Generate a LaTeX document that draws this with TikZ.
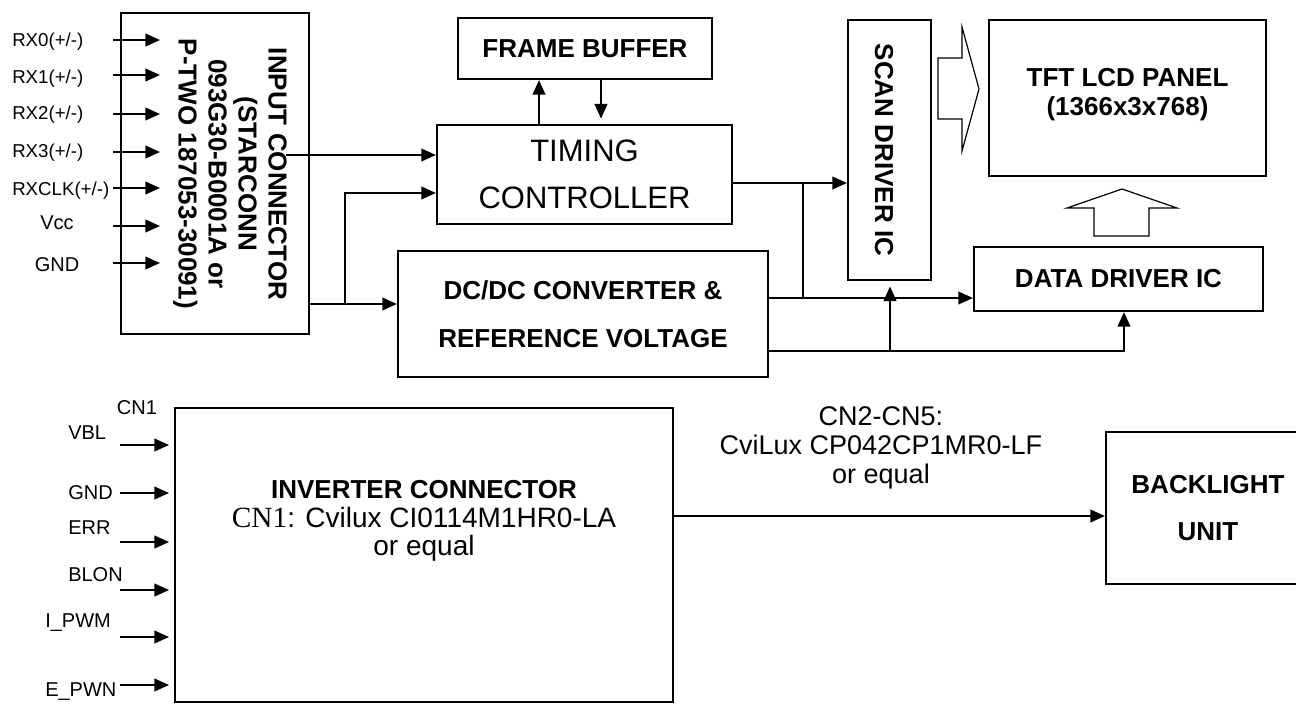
\documentclass[tikz,border=0pt]{standalone}
\usepackage{fontspec}
\setmainfont{Liberation Sans}
\newfontfamily\serifcn{Liberation Serif}
\usetikzlibrary{arrows.meta}
\begin{document}
\begin{tikzpicture}[x=0.75pt,y=-0.75pt,
  box/.style={draw, line width=1.6pt, inner sep=0pt},
  arr/.style={line width=1.5pt, -{Triangle[length=11pt,width=9.5pt]}},
  ln/.style={line width=1.5pt},
  blk/.style={draw, line width=0.9pt, line join=miter},
  bt/.style={font=\fontsize{19.5}{22.5}\selectfont\bfseries, align=center, inner sep=0pt},
  sl/.style={font=\fontsize{14}{16}\selectfont, inner sep=0pt},
  bl/.style={font=\fontsize{15}{17}\selectfont, inner sep=0pt}]
\useasboundingbox (0,0) rectangle (1296,704);

% ---------- boxes ----------
\node[box, minimum width=141pt, minimum height=240.75pt] (inp) at (215,173.5) {};
\node[bt, rotate=-90] (inpt) at (230,174) {INPUT CONNECTOR\\(STARCONN\\093G30-B0001A or\\P-TWO 187053-30091)};
\node[box, bt, minimum width=190.5pt, minimum height=45.75pt] (fb) at (585,48.5) {FRAME BUFFER};
\node[box, minimum width=221.25pt, minimum height=74.25pt, align=center, font=\fontsize{23.25}{35}\selectfont] (tc) at (584.5,174.5) {TIMING\\CONTROLLER};
\node[box, bt, minimum width=277.5pt, minimum height=94.5pt, font=\fontsize{19.5}{36}\selectfont\bfseries] (dc) at (583,314) {DC/DC CONVERTER \&\\REFERENCE VOLTAGE};
\node[box, minimum width=62.25pt, minimum height=195pt] (scan) at (889.5,150) {};
\node[bt, rotate=-90] (scant) at (884,150) {SCAN DRIVER IC};
\node[box, minimum width=207.75pt, minimum height=117pt] (tft) at (1127.5,98) {};
\node[bt, font=\fontsize{19.5}{21.75}\selectfont\bfseries] (tftt) at (1127.5,95) {TFT LCD PANEL\\(1366x3x768)};
\node[box, bt, minimum width=216.75pt, minimum height=48pt] (dd) at (1118.5,279) {DATA DRIVER IC};
\node[box, minimum width=373.5pt, minimum height=220.5pt] (inv) at (424,555) {};
\node[align=center, inner sep=0pt, font=\fontsize{21}{21.4}\selectfont] (invt) at (424,521)
  {{\fontsize{19.5}{21.4}\selectfont\bfseries INVERTER CONNECTOR}\\{\serifcn\fontsize{22}{21.4}\selectfont CN1}: Cvilux CI0114M1HR0-LA\\or equal};
\node[box, bt, minimum width=153pt, minimum height=114pt, font=\fontsize{19.5}{35.25}\selectfont\bfseries] (blu) at (1208,508) {BACKLIGHT\\UNIT};
\node[align=center, inner sep=0pt, font=\fontsize{20.25}{22}\selectfont] (cn2) at (881,448) {CN2-CN5:\\CviLux CP042CP1MR0-LF\\or equal};

% ---------- input connector pins ----------
\coordinate (itip) at (160,0);
\foreach \y/\n in {40/0,75/1,114/2,152/3,188/4,226/5,263/6}{
  \coordinate (is\n) at (113,\y);
  \draw[arr] (is\n) -- (is\n -| itip);
}
\node[sl, anchor=west] (l0) at (12,42) {RX0(+/-)};
\node[sl, anchor=west] (l1) at (12,79) {RX1(+/-)};
\node[sl, anchor=west] (l2) at (12,115) {RX2(+/-)};
\node[sl, anchor=west] (l3) at (12,153) {RX3(+/-)};
\node[sl, anchor=west] (l4) at (12,191) {RXCLK(+/-)};
\node[bl] (l5) at (57,223) {Vcc};
\node[bl] (l6) at (57,265) {GND};

% ---------- top connectors ----------
\coordinate (c1) at (286,155);
\draw[arr] (c1) -- (c1 -| tc.west);
\coordinate (j1) at (345,304);
\coordinate (j2) at (345,193);
\draw[arr] (j1 -| inp.east) -- (j1 -| dc.west);
\draw[arr] (j1) -- (j2) -- (j2 -| tc.west);

\coordinate (u1) at (539,0);
\coordinate (u2) at (601,0);
\draw[arr] (u1 |- tc.north) -- (u1 |- fb.south);
\draw[arr, shorten >=4pt] (u2 |- fb.south) -- (u2 |- tc.north);

\coordinate (k1) at (803,183);
\coordinate (k2) at (803,298);
\draw[arr] (k1 -| tc.east) -- (k1 -| scan.west);
\draw[ln] (k1) -- (k2);
\draw[arr] (k2 -| dc.east) -- (k2 -| dd.west);

\coordinate (m1) at (1124,351);
\coordinate (m2) at (890,351);
\draw[arr] (m1 -| dc.east) -- (m1) -- (m1 |- dd.south);
\draw[arr, shorten >=4pt] (m2) -- (m2 |- scan.south);

% ---------- block arrows ----------
\draw[blk] (938,58) -- (962,58) -- (962,27) -- (979,89) -- (962,151) -- (962,119) -- (938,119) -- cycle;
\draw[blk] (1094,236) -- (1094,208) -- (1067,208) -- (1122,189) -- (1177,208) -- (1149,208) -- (1149,236) -- cycle;

% ---------- inverter pins ----------
\coordinate (btip) at (169,0);
\foreach \y/\n in {445/0,493/1,542/2,590/3,637/4,685/5}{
  \coordinate (bs\n) at (120,\y);
  \draw[arr] (bs\n) -- (bs\n -| btip);
}
\node[bl] (b0) at (137,408) {CN1};
\node[bl, anchor=west] (b1) at (68,433) {VBL};
\node[bl, anchor=west] (b2) at (68,493) {GND};
\node[bl, anchor=west] (b3) at (68,528) {ERR};
\node[bl, anchor=west] (b4) at (68,575) {BLON};
\node[bl, anchor=west] (b5) at (45,623) {I\_PWM};
\node[bl, anchor=west] (b6) at (45,692) {E\_PWN};

\coordinate (o1) at (690,516);
\draw[arr] (o1 -| inv.east) -- (o1 -| blu.west);
\end{tikzpicture}
\end{document}
